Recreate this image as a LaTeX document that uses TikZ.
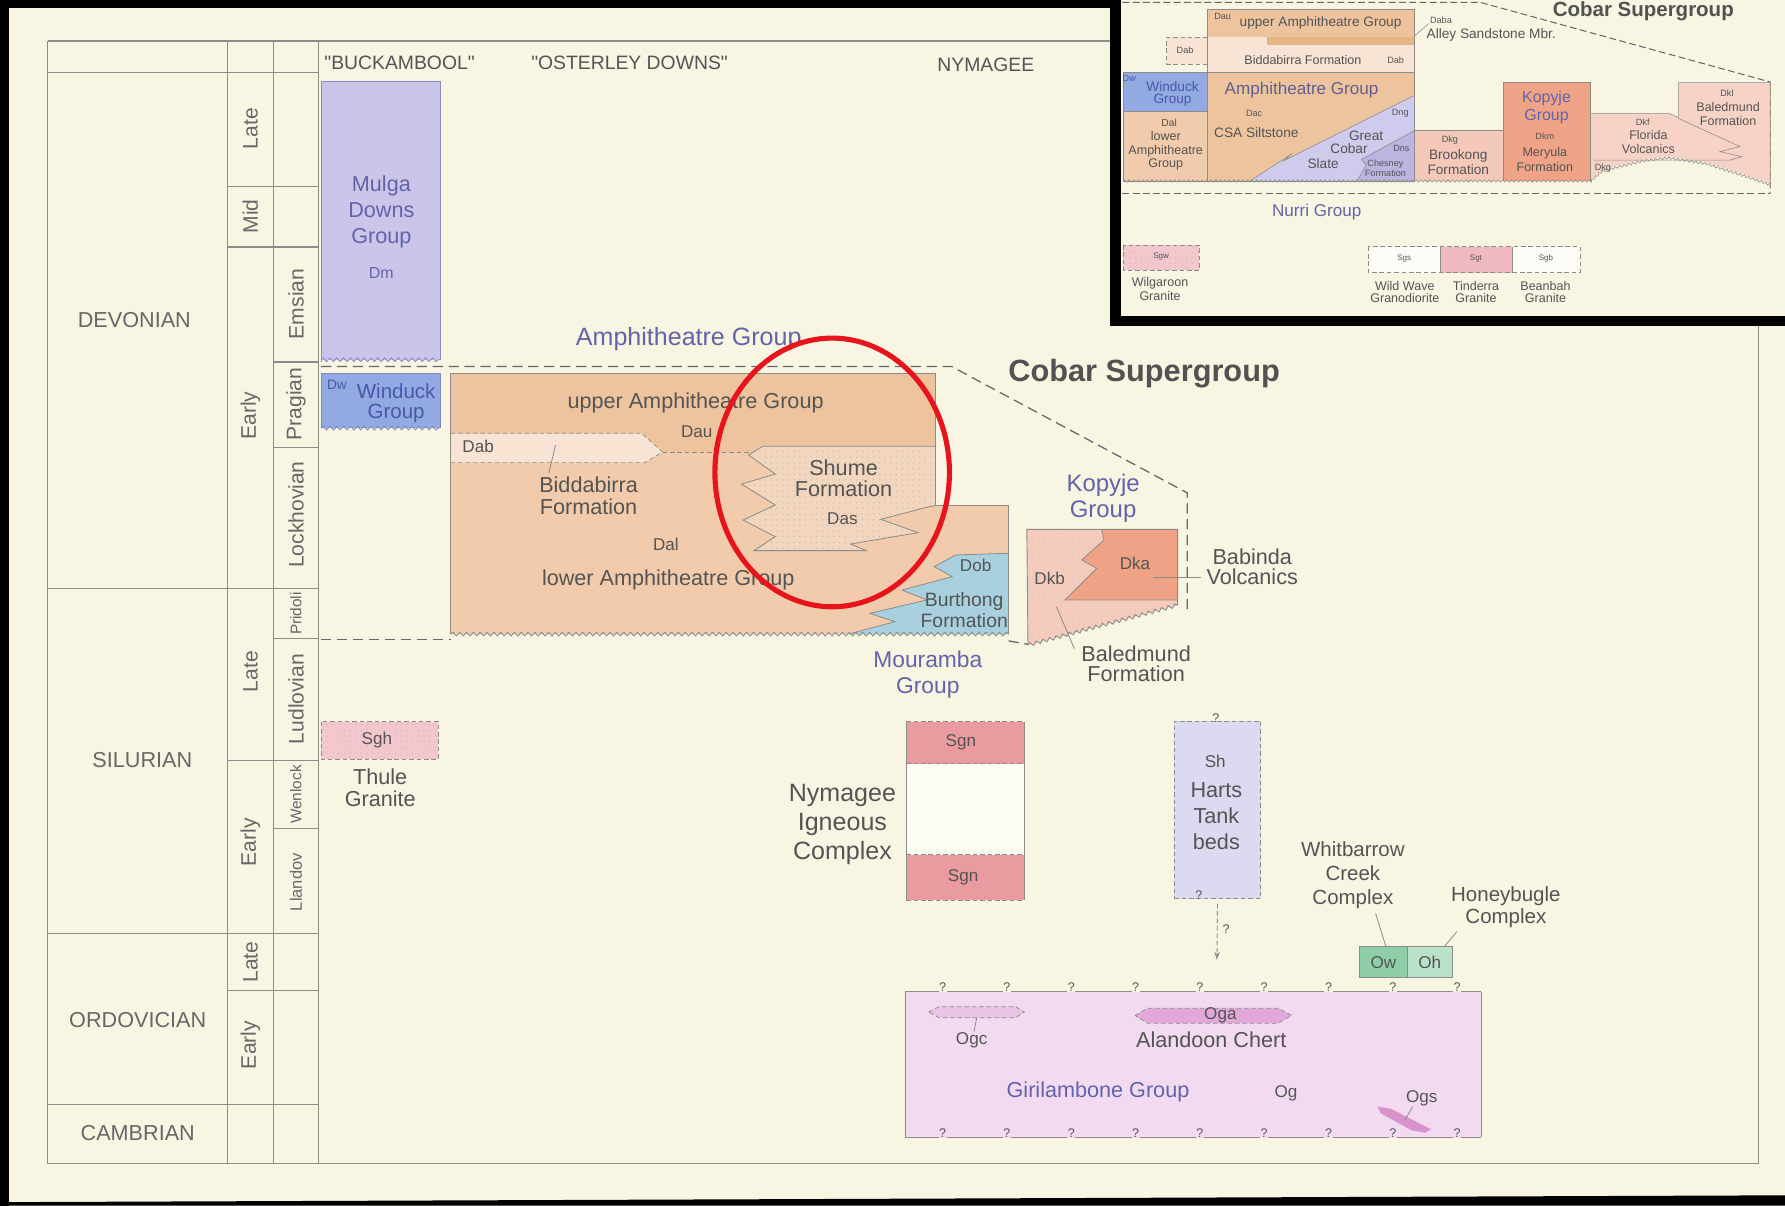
\documentclass[tikz,border=0pt]{standalone}
\usepackage{fontspec}
\setmainfont{Liberation Sans}[Ligatures=TeXOff]
\usetikzlibrary{decorations.pathmorphing,patterns,arrows.meta}
\pgfdeclarepatternformonly{sparsedots}{\pgfpoint{-1pt}{-1pt}}{\pgfpoint{6pt}{6pt}}{\pgfpoint{5pt}{5pt}}{\pgfpathcircle{\pgfpoint{2.5pt}{2.5pt}}{0.55pt}\pgfusepath{fill}}
\definecolor{bg}{HTML}{F8F5E3}
\definecolor{tline}{HTML}{8C8C88}
\definecolor{ttext}{HTML}{676767}
\definecolor{dtext}{HTML}{545454}
\definecolor{grp}{HTML}{6363A8}
\definecolor{mulga}{HTML}{CBC5EA}
\definecolor{mulgab}{HTML}{8E88C4}
\definecolor{wind}{HTML}{93A9E1}
\definecolor{windt}{HTML}{4A58A8}
\definecolor{amphu}{HTML}{EEC49F}
\definecolor{amphl}{HTML}{F1CBAB}
\definecolor{dabc}{HTML}{F7E4D5}
\definecolor{shume}{HTML}{F3D6BE}
\definecolor{burth}{HTML}{A8D0DE}
\definecolor{dkb}{HTML}{F5CCBC}
\definecolor{dka}{HTML}{EFA285}
\definecolor{thule}{HTML}{F4C6CE}
\definecolor{sgn}{HTML}{E99BA0}
\definecolor{harts}{HTML}{DCDAF0}
\definecolor{gir}{HTML}{F2DBF0}
\definecolor{oga}{HTML}{E2A8D9}
\definecolor{ogc}{HTML}{EAC3E5}
\definecolor{ogs}{HTML}{D893CD}
\definecolor{owc}{HTML}{8FCFA7}
\definecolor{ohc}{HTML}{BAE2CA}
\definecolor{slate}{HTML}{CFCBEC}
\definecolor{chesney}{HTML}{BBB5E0}
\definecolor{brook}{HTML}{F4C9BA}
\definecolor{kopy}{HTML}{EFA487}
\definecolor{baledc}{HTML}{F6D3C6}
\definecolor{band}{HTML}{E6B583}
\definecolor{tind}{HTML}{F0BAC2}
\definecolor{redc}{HTML}{E8141C}
\tikzset{
  fs/.style args={#1/#2}{font=\fontsize{#1}{#2}\selectfont},
  fsb/.style args={#1/#2}{font=\fontsize{#1}{#2}\selectfont\bfseries},
  tl/.style={draw=tline, line width=1.1pt},
  lbl/.style={text=dtext, align=center, inner sep=0pt},
  grpl/.style={text=grp, align=center, inner sep=0pt},
  tab/.style={text=ttext, align=center, inner sep=0pt},
  boxline/.style={draw=tline, line width=0.8pt},
  cob/.style={draw=black!60, line width=1.1pt, dash pattern=on 9pt off 5pt},
  wavy/.style={draw=tline, line width=0.8pt, decorate, decoration={snake, segment length=6pt, amplitude=1.6pt}},
  dotfill/.style={postaction={pattern=sparsedots, pattern color=#1}},
  lead/.style={draw=tline, line width=0.7pt},
  dashb/.style={draw=tline, line width=0.8pt, dash pattern=on 4pt off 2.5pt},
  qm/.style={text=dtext, fs=11/12, inner sep=0pt},
}
\begin{document}
\begin{tikzpicture}[x=1pt,y=-1pt]
\useasboundingbox (0,0) rectangle (1568,1059);
\fill[bg] (0,0) rectangle (1568,1059);

% ---------------- time scale table
\draw[tl] (42,36) -- (980,36);
\draw[tl] (42,36) -- (42,1022) -- (1545,1022) -- (1545,283);
\draw[tl] (200,36) -- (200,1022);
\draw[tl] (240,36) -- (240,1022);
\draw[tl] (280,36) -- (280,1022);
\draw[tl] (42,64) -- (280,64);
\draw[tl] (42,517) -- (280,517);
\draw[tl] (42,820) -- (280,820);
\draw[tl] (42,970) -- (280,970);
\draw[tl] (200,164) -- (280,164);
\draw[tl] (200,217) -- (280,217);
\draw[tl] (240,318) -- (280,318);
\draw[tl] (240,393) -- (280,393);
\draw[tl] (200,668) -- (280,668);
\draw[tl] (240,561) -- (280,561);
\draw[tl] (240,728) -- (280,728);
\draw[tl] (200,870) -- (280,870);

\node[tab, fs=19/21] (dev) at (118,281) {DEVONIAN};
\node[tab, fs=19/21] (sil) at (125,668) {SILURIAN};
\node[tab, fs=19/21] (ord) at (121,896) {ORDOVICIAN};
\node[tab, fs=19/21] (cam) at (121,995) {CAMBRIAN};

\node[tab, fs=18.5/20, rotate=90] (ep1) at (220,113) {Late};
\node[tab, fs=18.5/20, rotate=90] (ep2) at (220,190) {Mid};
\node[tab, fs=18.5/20, rotate=90] (ep3) at (220,365) {Early};
\node[tab, fs=18.5/20, rotate=90] (ep4) at (220,590) {Late};
\node[tab, fs=18.5/20, rotate=90] (ep5) at (220,740) {Early};
\node[tab, fs=18.5/20, rotate=90] (ep6) at (220,845) {Late};
\node[tab, fs=18.5/20, rotate=90] (ep7) at (220,918) {Early};

\node[tab, fs=18.5/20, rotate=90] (st1) at (260,267) {Emsian};
\node[tab, fs=18.5/20, rotate=90] (st2) at (260,355) {Pragian};
\node[tab, fs=18.5/20, rotate=90] (st3) at (260,452) {Lockhovian};
\node[tab, fs=13.5/15, rotate=90] (st4) at (260,539) {Pridoli};
\node[tab, fs=18.5/20, rotate=90] (st5) at (260,614) {Ludlovian};
\node[tab, fs=13.5/15, rotate=90] (st6) at (260,698) {Wenlock};
\node[tab, fs=14.5/16, rotate=90] (st7) at (260,775) {Llandov};

\node[lbl, fs=17/19] (hbuck) at (351,55) {"BUCKAMBOOL"};
\node[lbl, fs=17/19] (host) at (553,55) {"OSTERLEY DOWNS"};
\node[lbl, fs=17/19] (hnym) at (866,57) {NYMAGEE};

% ---------------- Mulga Downs, Winduck
\fill[mulga] (282,72) rectangle (387,316);
\draw[draw=mulgab, line width=0.9pt] (282,318) -- (282,72) -- (387,72) -- (387,316);
\draw[wavy, draw=mulgab] (282,316) -- (387,316);
\node[grpl, fs=19/23] (mulgat) at (335,186) {Mulga\\Downs\\Group};
\node[grpl, fs=14/16] (dm) at (335,240) {Dm};

\fill[wind] (282,328) rectangle (387,376);
\draw[draw=windt!70, line width=0.8pt] (282,376) -- (282,328) -- (387,328) -- (387,376);
\draw[wavy, draw=windt!70] (282,376) -- (387,376);
\node[text=windt, fs=12/14, inner sep=0pt] (dw) at (296,338) {Dw};
\node[text=windt, align=center, inner sep=0pt, fs=18/18] (windt) at (348,354) {Winduck\\Group};

% ---------------- Cobar supergroup outline
\draw[cob] (282,322) -- (836,322) -- (1043,433) -- (1043,537);
\draw[cob] (282,562) -- (396,562);
\draw[cob] (886,563) -- (903,566);
\node[text=black!68, fsb=27/30, inner sep=0pt] (cobar) at (1005,328) {Cobar Supergroup};
\node[grpl, fs=22/24] (amphg) at (605,298) {Amphitheatre Group};

% ---------------- Amphitheatre box
\fill[amphl] (396,328) -- (822,328) -- (822,444) -- (886,444) -- (886,557) -- (396,557) -- cycle;
\fill[amphu] (396,328) -- (822,328) -- (822,392) -- (670,392) -- (660,397) -- (582,397) -- (563.5,380.6) -- (396,380.6) -- cycle;
\fill[dabc] (396,380.6) -- (563.5,380.6) -- (582,397) -- (566.6,406.4) -- (396,406.4) -- cycle;
\draw[dashb, line width=0.6pt] (396,380.6) -- (563.5,380.6) -- (582,397) -- (566.6,406.4) -- (396,406.4);
\draw[dashb, line width=0.6pt] (582,397) -- (660,397);
\fill[shume, dotfill=black!28] (670,392) -- (822,392) -- (822,444) -- (814.5,445.5) -- (773.6,456.2) -- (806.6,467.9) -- (747,477.9) -- (761,483.7) -- (662.3,483.7) -- (681,471.4) -- (652.8,456.8) -- (681,443.6) -- (651.3,425.2) -- (681,416.4) -- (657.6,399.7) -- cycle;
\draw[lead] (822,444) -- (814.5,445.5) -- (773.6,456.2) -- (806.6,467.9) -- (747,477.9) -- (761,483.7) -- (662.3,483.7) -- (681,471.4) -- (652.8,456.8) -- (681,443.6) -- (651.3,425.2) -- (681,416.4) -- (657.6,399.7) -- (670,392) -- (822,392);
\fill[burth] (886,486) -- (839.5,487.5) -- (820.7,497.8) -- (836.3,506.6) -- (792.4,518.3) -- (814.3,527) -- (764.2,538.8) -- (786.2,546.1) -- (745.4,557) -- (886,557) -- cycle;
\draw[lead] (886,486) -- (839.5,487.5) -- (820.7,497.8) -- (836.3,506.6) -- (792.4,518.3) -- (814.3,527) -- (764.2,538.8) -- (786.2,546.1) -- (745.4,557);
\draw[boxline] (396,557) -- (396,328) -- (822,328) -- (822,444) -- (886,444) -- (886,557);
\draw[wavy] (396,557) -- (886,557);

\node[lbl, fs=19/21] (uppa) at (611,354) {upper Amphitheatre Group};
\node[lbl, fs=15/17] (dau) at (612,379) {Dau};
\node[lbl, fs=15/17] (dab) at (420,392) {Dab};
\node[lbl, fs=19/19] (bidda) at (517,435.5) {Biddabirra\\Formation};
\node[lbl, fs=19/18] (shumet) at (741,420) {Shume\\Formation};
\node[lbl, fs=15/17] (das) at (740,456) {Das};
\node[lbl, fs=15/17] (dal) at (585,478) {Dal};
\node[lbl, fs=19/21] (lowa) at (587,509) {lower Amphitheatre Group};
\node[lbl, fs=15/17] (dob) at (857,497) {Dob};
\node[lbl, fs=17/18] (burtht) at (847,536) {Burthong\\Formation};
\coordinate (biddaend) at (488,391);
\draw[lead] ([xshift=-35pt,yshift=3pt]bidda.north) -- (biddaend);
\node[grpl, fs=20/23] (mour) at (815,592.5) {Mouramba\\Group};

% ---------------- Kopyje
\fill[dkb, dotfill=black!22] (902,465) -- (1034.5,465) -- (1034.5,531.5) -- (903,566.6) -- cycle;
\fill[dka] (967.7,465) -- (1034.5,465) -- (1034.5,527) -- (935.5,527) -- (963.4,499.2) -- (950.2,491.9) -- (969.8,474.3) -- cycle;
\draw[lead] (967.7,465) -- (969.8,474.3) -- (950.2,491.9) -- (963.4,499.2) -- (935.5,527) -- (1034.5,527);
\draw[boxline] (903,566.6) -- (902,465) -- (1034.5,465) -- (1034.5,531.5);
\draw[wavy] (903,566.6) -- (1034.5,531.5);
\node[grpl, fs=21/23] (kopt) at (969,438) {Kopyje\\Group};
\node[lbl, fs=15/17] (dkbt) at (922,508) {Dkb};
\node[lbl, fs=15/17] (dkat) at (997,495) {Dka};
\node[lbl, fs=19/18] (babinda) at (1100,498) {Babinda\\Volcanics};
\coordinate (dkaend) at (1013,507);
\draw[lead] ([xshift=-5pt,yshift=-9pt]babinda.west) -- (dkaend);
\node[lbl, fs=19/18] (baled) at (998,583) {Baledmund\\Formation};
\coordinate (dkbend) at (928,533);
\draw[lead] ([xshift=-6pt,yshift=-3pt]baled.north west) -- (dkbend);

% ---------------- Thule granite
\fill[thule, dotfill=black!25] (282,634) rectangle (385,667);
\draw[dashb] (282,634) rectangle (385,667);
\node[lbl, fs=15/17] (sgh) at (331,650) {Sgh};
\node[lbl, fs=19/19] (thulet) at (334,692) {Thule\\Granite};

% ---------------- Nymagee
\fill[sgn] (796,634) rectangle (900,671);
\fill[white!60!bg] (796,671) rectangle (900,751);
\fill[sgn] (796,751) rectangle (900,791);
\draw[boxline] (796,634) -- (796,791);
\draw[boxline] (900,634) -- (900,791);
\draw[dashb] (796,634) -- (900,634);
\draw[dashb] (796,671) -- (900,671);
\draw[dashb] (796,751) -- (900,751);
\draw[dashb] (796,791) -- (900,791);
\node[lbl, fs=15/17] (sgn1) at (844,652) {Sgn};
\node[lbl, fs=15/17] (sgn2) at (846,771) {Sgn};
\node[lbl, fs=22/25.5] (nymt) at (740,724) {Nymagee\\Igneous\\Complex};

% ---------------- Harts Tank
\node[draw=tline, line width=0.8pt, dash pattern=on 4pt off 2.5pt, fill=harts, minimum width=76pt, minimum height=156pt, inner sep=0pt] (harts) at (1069.5,711.5) {};
\node[qm] (hq1) at (1068,631) {?};
\node[qm] (hq2) at (1053,786) {?};
\node[lbl, fs=15/17] (sht) at (1067.5,669) {Sh};
\node[lbl, fs=19/22.5] (hartst) at (1068.5,717) {Harts\\Tank\\beds};
\coordinate (hartsend) at (1069,843);
\draw[dashb, -{Stealth[length=7pt,width=5pt]}] ([yshift=-4pt]harts.south) -- (hartsend);
\node[qm] (hq3) at (1077,816) {?};

% ---------------- Whitbarrow / Honeybugle
\node[draw=tline, line width=0.8pt, fill=owc, minimum width=41.8pt, minimum height=27.2pt, inner sep=0pt, text=dtext, fs=15/17] (ow) at (1215.3,845.2) {Ow};
\node[draw=tline, line width=0.8pt, fill=ohc, minimum width=39.6pt, minimum height=27.2pt, inner sep=0pt, text=dtext, fs=15/17] (oh) at (1256,845.2) {Oh};
\node[lbl, fs=18/21] (whit) at (1188.4,769) {Whitbarrow\\Creek\\Complex};
\node[lbl, fs=18/19.5] (honey) at (1322.8,797) {Honeybugle\\Complex};
\draw[lead] ([xshift=20pt,yshift=-4pt]whit.south) -- ([xshift=2pt]ow.north);
\draw[lead] ([xshift=-43pt,yshift=-3pt]honey.south) -- ([xshift=13pt]oh.north);

% ---------------- Girilambone
\fill[gir] (795,871) rectangle (1301,999);
\draw[boxline] (795,871) -- (1301,871);
\draw[boxline] (795,999) -- (1301,999);
\draw[boxline] (795,871) -- (795,999);
\draw[boxline] (1301,871) -- (1301,999);
\foreach \qx [count=\i] in {828,884.5,941,997.5,1054,1110.5,1167,1223.5,1280} {
  \node[qm, fill=bg, inner sep=0.5pt] (gqt\i) at (\qx,867) {?};
  \node[qm, fill=gir, inner sep=0.5pt] (gqb\i) at (\qx,995) {?};
}
\fill[ogc] (815.7,889) -- (825,884.3) -- (892,884.3) -- (900,889) -- (892,894) -- (825,894) -- cycle;
\draw[dashb, line width=0.6pt] (815.7,889) -- (825,884.3) -- (892,884.3) -- (900,889) -- (892,894) -- (825,894) -- cycle;
\fill[oga] (997,892) -- (1008,885.7) -- (1123,885.7) -- (1134.6,892) -- (1123,898.8) -- (1008,898.8) -- cycle;
\draw[dashb, line width=0.6pt] (997,892) -- (1008,885.7) -- (1123,885.7) -- (1134.6,892) -- (1123,898.8) -- (1008,898.8) -- cycle;
\fill[ogs] (1210,972) -- (1222,974) -- (1257,992) -- (1252,995) -- (1240,993) -- (1213,978) -- cycle;
\node[lbl, fs=15/17] (ogct) at (853.5,913.6) {Ogc};
\coordinate (ogcend) at (858,894);
\draw[lead] ([xshift=2pt]ogct.north) -- (ogcend);
\node[lbl, fs=15/17] (ogat) at (1072,892) {Oga};
\node[lbl, fs=19/21] (alan) at (1064,913) {Alandoon Chert};
\node[grpl, fs=19/21] (girt) at (964.5,959) {Girilambone Group};
\node[lbl, fs=15/17] (ogt) at (1129.6,960) {Og};
\node[lbl, fs=15/17] (ogst) at (1249,965) {Ogs};
\coordinate (ogsend) at (1234,984);
\draw[lead] ([xshift=6pt]ogst.south west) -- (ogsend);

% ---------------- inset
\fill[bg] (985,0) rectangle (1568,279);
\draw[cob, line width=0.9pt, dash pattern=on 6pt off 3pt] (986,2) -- (1300,2) -- (1555,72) -- (1555,170);
\draw[cob, line width=0.9pt, dash pattern=on 6pt off 3pt] (986,170) -- (1555,170);
\fill[amphu] (1060.5,8.2) rectangle (1242,32.8);
\fill[dabc] (1060.5,32.8) rectangle (1242,63.8);
\fill[band] (1112.7,32.8) rectangle (1242,39.5);
\fill[dabc] (1024.8,32.8) rectangle (1060.5,56.2);
\draw[dashb, line width=0.5pt] (1060.5,32.8) -- (1024.8,32.8) -- (1024.8,56.2) -- (1060.5,56.2);
\fill[wind] (986.7,63.8) rectangle (1060.5,98.1);
\fill[amphl] (986.7,98.1) rectangle (1060.5,159);
\fill[amphu] (1060.5,63.8) rectangle (1242,159);
\fill[slate] (1098,159) -- (1135,135) -- (1128,141) -- (1242,84) -- (1242,159) -- cycle;
\fill[chesney] (1192,159) -- (1200,145) -- (1196,140) -- (1242,115) -- (1242,159) -- cycle;
\fill[brook] (1242,114.2) rectangle (1320.6,159);
\fill[kopy] (1320.6,72.6) rectangle (1396.7,159);
\fill[baledc] (1396.7,99.6) -- (1466,99.6) -- (1474.3,103) -- (1474.3,72.6) -- (1555,72.6) -- (1555,161) -- (1500,143) -- (1466,137.6) -- (1445,140) -- (1408,149) -- (1396.7,159) -- cycle;
\draw[lead, line width=0.5pt] (1060.5,8.2) rectangle (1242,159);
\draw[lead, line width=0.5pt] (1060.5,63.8) -- (1242,63.8);
\draw[lead, line width=0.5pt] (986.7,63.8) rectangle (1060.5,159);
\draw[lead, line width=0.5pt] (986.7,98.1) -- (1060.5,98.1);
\draw[lead, line width=0.5pt] (1098,159) -- (1135,135) -- (1128,141) -- (1242,84);
\draw[lead, line width=0.5pt] (1192,159) -- (1200,145) -- (1196,140) -- (1242,115);
\draw[lead, line width=0.5pt] (1242,114.2) -- (1320.6,114.2);
\draw[lead, line width=0.5pt] (1320.6,159) -- (1320.6,72.6) -- (1396.7,72.6) -- (1396.7,159);
\draw[lead, line width=0.5pt] (1396.7,99.6) -- (1466,99.6) -- (1474.3,103) -- (1474.3,72.6) -- (1555,72.6) -- (1555,161);
\draw[lead, line width=0.5pt] (1474.3,104) -- (1528.5,128.8) -- (1510.9,133.2) -- (1530,137.6) -- (1520,140.6) -- (1400,140.6);
\draw[wavy, line width=0.5pt, decoration={snake, segment length=4pt, amplitude=1pt}] (986.7,159) -- (1396.7,159) -- (1408,149) -- (1445,140) -- (1466,137.6) -- (1500,143) -- (1555,161);

\node[lbl, fs=8/9] (idau) at (1074,14.6) {Dau};
\node[lbl, fs=12/13] (iupper) at (1160,20.5) {upper Amphitheatre Group};
\node[lbl, fs=8/9] (idab1) at (1041,44) {Dab};
\node[lbl, fs=11/12] (ibidda) at (1144.5,52.7) {Biddabirra Formation};
\node[lbl, fs=8/9] (idab2) at (1226,53) {Dab};
\node[text=windt, fs=8/9, inner sep=0pt] (idw) at (992,68.8) {Dw};
\node[text=windt, align=center, inner sep=0pt, fs=12/11] (iwind) at (1030,82.5) {Winduck\\Group};
\node[lbl, fs=9/10] (idal) at (1027,108) {Dal};
\node[lbl, fs=11/12] (ilow) at (1024,132.5) {lower\\Amphitheatre\\Group};
\node[text=grp!70!dtext, inner sep=0pt, fs=15/16] (iamph) at (1143.3,79) {Amphitheatre Group};
\node[lbl, fs=8/9] (idac) at (1101.7,99.6) {Dac};
\node[lbl, fs=12/13] (icsa) at (1103.6,116.5) {CSA Siltstone};
\node[lbl, fs=8/9] (idng) at (1230,99.6) {Dng};
\node[lbl, fs=12/11.5] (igcs) at (1200,119.5) {Great};
\node[lbl, fs=12/11.5] (igcs2) at (1185,130.3) {Cobar};
\node[lbl, fs=12/11.5] (igcs3) at (1162.3,144) {Slate};
\node[lbl, fs=8/9] (idns) at (1231,130.3) {Dns};
\node[lbl, fs=8/8.8] (iches) at (1217,148) {Chesney\\Formation};
\node[lbl, fs=8/9, anchor=west] (idaba) at (1256,17.6) {Daba};
\node[lbl, fs=12/13, anchor=west] (ialley) at (1253,30.7) {Alley Sandstone Mbr.};
\coordinate (idabaend) at (1242,32);
\draw[lead, line width=0.5pt] ([xshift=-1pt]idaba.south west) -- (idabaend);
\node[lbl, fs=8/9] (idkg) at (1273.6,123) {Dkg};
\node[lbl, fs=12/13] (ibrook) at (1281,142.6) {Brookong\\Formation};
\node[grpl, fs=14/15.5] (ikop) at (1358.5,94.2) {Kopyje\\Group};
\node[lbl, fs=8/9] (idkm) at (1357,120) {Dkm};
\node[lbl, fs=11/13] (imery) at (1357,139.8) {Meryula\\Formation};
\node[lbl, fs=8/9] (idkf) at (1443,107) {Dkf};
\node[lbl, fs=11/12.6] (iflor) at (1448,125) {Florida\\Volcanics};
\node[lbl, fs=8/9] (idkl) at (1517,82) {Dkl};
\node[lbl, fs=11/12.3] (ibaled) at (1518,100) {Baledmund\\Formation};
\node[lbl, fs=8/9] (idkg2) at (1408,148) {Dkg};
\node[text=black!68, fsb=18/20, inner sep=0pt] (icobar) at (1443.5,9.5) {Cobar Supergroup};
\node[grpl, fs=15/17] (inurri) at (1156.6,186) {Nurri Group};

\fill[thule, dotfill=black!25] (986.7,215.2) rectangle (1053.5,237.2);
\draw[dashb, line width=0.5pt] (986.7,215.2) rectangle (1053.5,237.2);
\node[lbl, fs=7/8] (isgw) at (1020,225) {Sgw};
\node[lbl, fs=11/12.5] (iwilg) at (1019,253.6) {Wilgaroon\\Granite};
\fill[white!70!bg] (1202,216.7) rectangle (1265,239.5);
\fill[tind] (1265,216.7) rectangle (1328,239.5);
\fill[white!70!bg] (1328,216.7) rectangle (1388,239.5);
\draw[dashb, line width=0.5pt] (1202,216.7) rectangle (1388,239.5);
\draw[lead, line width=0.5pt] (1265,216.7) -- (1265,239.5);
\draw[lead, line width=0.5pt] (1328,216.7) -- (1328,239.5);
\node[lbl, fs=7/8] (isgs) at (1233.5,227) {Sgs};
\node[lbl, fs=7/8] (isgt) at (1296.5,227) {Sgt};
\node[lbl, fs=7/8] (isgb) at (1358,227) {Sgb};
\node[lbl, fs=11/11] (iwild) at (1234,256.6) {Wild Wave\\Granodiorite};
\node[lbl, fs=11/11] (itind) at (1296.5,256.6) {Tinderra\\Granite};
\node[lbl, fs=11/11] (ibean) at (1357.6,256.6) {Beanbah\\Granite};

% ---------------- black frame
\fill[black] (0,0) rectangle (8,1059);
\fill[black] (0,0) rectangle (985,7);
\fill[black] (975,0) rectangle (985,286);
\fill[black] (975,278) rectangle (1568,286);
\fill[black] (0,1056) -- (1568,1050) -- (1568,1059) -- (0,1059) -- cycle;

% ---------------- red annotation
\draw[redc, line width=4.5pt] (731,415) ellipse [x radius=103, y radius=118];
\end{tikzpicture}
\end{document}
